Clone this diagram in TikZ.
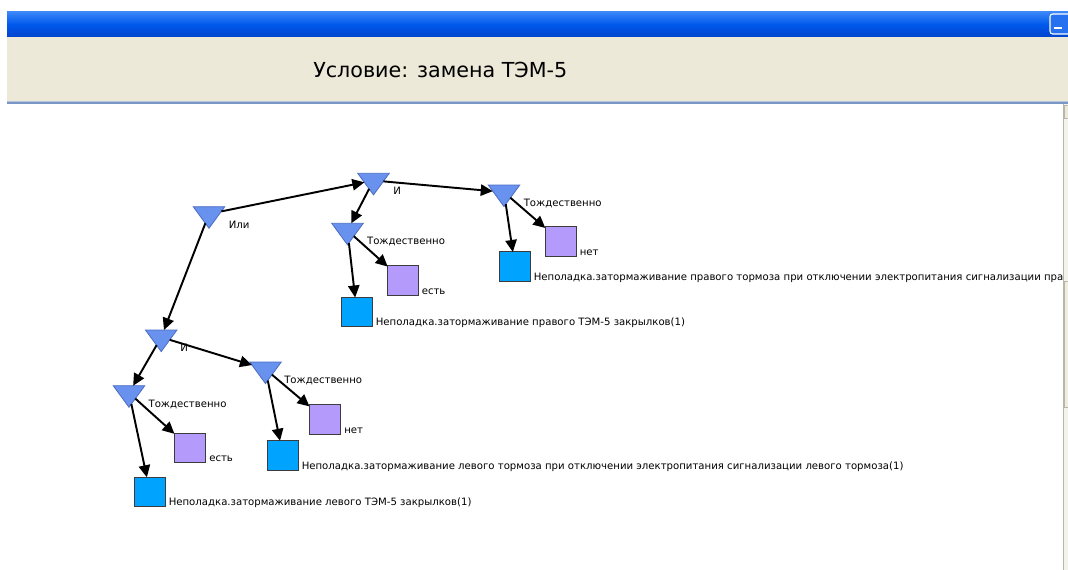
\documentclass[tikz,border=0pt]{standalone}
\usepackage{fontspec}
\setmainfont{DejaVu Sans}
\usetikzlibrary{shapes.geometric,arrows.meta}
\definecolor{barTop}{HTML}{3A86F8}
\definecolor{barMid}{HTML}{0058EC}
\definecolor{barBot}{HTML}{0044CC}
\definecolor{panel}{HTML}{ECE9D8}
\definecolor{panelEdge}{HTML}{7A96C4}
\definecolor{gateFill}{HTML}{6892EE}
\definecolor{gateEdge}{HTML}{4C6CC4}
\definecolor{causeFill}{HTML}{00A4FF}
\definecolor{valueFill}{HTML}{B49AFA}
\definecolor{boxEdge}{HTML}{3C3C3C}
\definecolor{scrollBg}{HTML}{F3F2EC}
\definecolor{scrollEdge}{HTML}{B8B6AA}
\begin{document}
\begin{tikzpicture}[x=0.75pt,y=-0.75pt,
  gate/.style={regular polygon, regular polygon sides=3, shape border rotate=180,
    minimum size=27.3pt, inner sep=0pt, outer sep=0pt, yscale=0.79, transform shape,
    fill=gateFill, draw=gateEdge, line width=0.6pt},
  cause/.style={rectangle, minimum width=23.25pt, minimum height=22.1pt,
    inner sep=0pt, outer sep=0pt, fill=causeFill, draw=boxEdge, line width=0.7pt},
  value/.style={cause, fill=valueFill},
  lbl/.style={font=\fontsize{7.6pt}{9pt}\selectfont, inner sep=0pt, anchor=base west},
  link/.style={-{Triangle[length=9pt,width=8.5pt]}, line width=1.45pt, black}]

% page
\useasboundingbox (0,0) rectangle (1068,570);
\fill[white] (0,0) rectangle (1068,570);

% window title bar and header panel
\shade[top color=barTop, bottom color=barBot, middle color=barMid] (7,12) rectangle (1068,37);
\fill[panel] (7,37) rectangle (1068,101.5);
\fill[panelEdge!55] (7,101.5) rectangle (1068,102.5);
\fill[panelEdge] (7,102.5) rectangle (1068,104);
\node[font=\fontsize{15.5pt}{17pt}\selectfont, inner sep=0pt, anchor=base west] (title) at (313,77.5) {Условие: замена ТЭМ-5};

% minimize button
\filldraw[fill=barMid!85!white, draw=white, line width=0.8pt, rounded corners=2pt] (1050,14) rectangle (1072,34);
\fill[white] (1054,27) rectangle (1062,29.5);

% logic gates
\node[gate] (ili) at (209,213.9) {};
\node[gate] (i1)  at (373.5,180.5) {};
\node[gate] (t1)  at (504,192.2) {};
\node[gate] (t2)  at (347.5,230.5) {};
\node[gate] (i2)  at (161.2,337.2) {};
\node[gate] (t3)  at (129,392.9) {};
\node[gate] (t4)  at (265.5,369.2) {};

% gate captions
\node[lbl] (lili) at (228.5,228.5) {Или};
\node[lbl] (li1)  at (393,195) {И};
\node[lbl] (lt1)  at (523.5,206.5) {Тождественно};
\node[lbl] (lt2)  at (366.8,244.5) {Тождественно};
\node[lbl] (li2)  at (180,351.7) {И};
\node[lbl] (lt3)  at (148.3,407) {Тождественно};
\node[lbl] (lt4)  at (284,383) {Тождественно};

% values and causes
\node[value] (p1) at (560.8,241.4) {};
\node[cause] (b1) at (515,266.7) {};
\node[value] (p2) at (403.2,280.5) {};
\node[cause] (b2) at (356.8,312.2) {};
\node[value] (p3) at (190,447.8) {};
\node[cause] (b3) at (150,492) {};
\node[value] (p4) at (325,419.5) {};
\node[cause] (b4) at (283,455.5) {};

% captions of values and causes
\node[lbl] (lp1) at (579.5,255.5) {нет};
\node[lbl] (lb1) at (533.5,280.5) {Неполадка.затормаживание правого тормоза при отключении электропитания сигнализации прав};
\node[lbl] (lp2) at (421.5,294.5) {есть};
\node[lbl] (lb2) at (375.5,325.5) {Неполадка.затормаживание правого ТЭМ-5 закрылков(1)};
\node[lbl] (lp3) at (209,461.5) {есть};
\node[lbl] (lb3) at (168.5,505.5) {Неполадка.затормаживание левого ТЭМ-5 закрылков(1)};
\node[lbl] (lp4) at (344,433.5) {нет};
\node[lbl] (lb4) at (301.5,469) {Неполадка.затормаживание левого тормоза при отключении электропитания сигнализации левого тормоза(1)};

% connectors
\draw[link] (ili) -- (i1);
\draw[link] (ili) -- (i2);
\draw[link] (i1) -- (t1);
\draw[link] (i1) -- (t2);
\draw[link] (t1) -- (b1);
\draw[link] (t1) -- (p1);
\draw[link] (t2) -- (b2);
\draw[link] (t2) -- (p2);
\draw[link] (i2) -- (t3);
\draw[link] (i2) -- (t4);
\draw[link] (t3) -- (b3);
\draw[link] (t3) -- (p3);
\draw[link] (t4) -- (b4);
\draw[link] (t4) -- (p4);

% vertical scroll bar
\fill[scrollBg] (1063,104) rectangle (1068,570);
\draw[scrollEdge, line width=0.6pt] (1063.5,104) -- (1063.5,570);
\filldraw[fill=panel, draw=scrollEdge, line width=0.6pt] (1064.5,105) rectangle (1070,118);
\filldraw[fill=panel!80!white, draw=scrollEdge, line width=0.6pt] (1064.5,281) rectangle (1070,407);
\end{tikzpicture}
\end{document}
